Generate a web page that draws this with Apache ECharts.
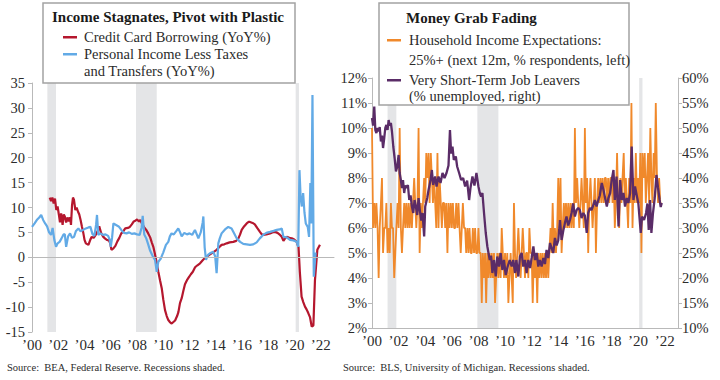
<!DOCTYPE html>
<html>
<head>
<meta charset="utf-8">
<script src="https://cdn.jsdelivr.net/npm/echarts@6/dist/echarts.min.js"></script>
<style>
html,body{margin:0;padding:0;background:#fff;}
#c{width:720px;height:380px;}
</style>
</head>
<body>
<div id="c"></div>
<script>
// ---- data (decimal years) ----
const recessions = [[2001.17, 2001.83], [2007.92, 2009.5], [2020.08, 2020.33]];
const xTickYears = [2000,2002,2004,2006,2008,2010,2012,2014,2016,2018,2020,2022];
const xTickLabels = ["’00","’02","’04","’06","’08","’10","’12","’14","’16","’18","’20","’22"];

const creditCard = [[2001.35,12.0],[2001.45,11.3],[2001.55,12.0],[2001.65,10.8],[2001.75,11.8],[2001.85,9.5],[2001.95,10.2],[2002.05,8.5],[2002.13,7.0],[2002.22,8.8],[2002.33,6.5],[2002.42,8.6],[2002.5,8.2],[2002.6,7.0],[2002.7,8.0],[2002.8,7.2],[2002.9,8.0],[2002.97,6.5],[2003.05,10.5],[2003.12,12.0],[2003.2,11.5],[2003.3,9.5],[2003.4,10.0],[2003.5,9.2],[2003.6,8.6],[2003.7,7.5],[2003.8,6.2],[2003.9,5.0],[2004.0,3.5],[2004.1,2.8],[2004.3,2.5],[2004.45,3.6],[2004.55,4.1],[2004.7,3.9],[2004.85,4.5],[2005.0,5.3],[2005.12,6.2],[2005.25,5.0],[2005.4,4.2],[2005.55,3.8],[2005.7,3.5],[2005.85,3.4],[2005.96,2.8],[2006.05,1.5],[2006.2,1.8],[2006.35,2.3],[2006.5,3.2],[2006.65,3.9],[2006.8,4.8],[2006.95,5.2],[2007.1,5.8],[2007.3,5.9],[2007.45,6.1],[2007.6,6.6],[2007.75,7.2],[2007.9,7.4],[2008.0,7.6],[2008.15,7.2],[2008.25,7.5],[2008.4,6.6],[2008.55,6.0],[2008.7,5.5],[2008.85,4.8],[2009.0,4.0],[2009.12,3.0],[2009.24,2.1],[2009.35,0.8],[2009.45,-0.5],[2009.62,-2.9],[2009.75,-4.6],[2009.88,-6.2],[2010.0,-8.5],[2010.13,-10.6],[2010.26,-11.8],[2010.38,-12.6],[2010.5,-13.0],[2010.64,-13.3],[2010.77,-13.0],[2010.9,-12.7],[2011.05,-11.8],[2011.15,-11.0],[2011.27,-9.2],[2011.4,-8.2],[2011.52,-6.8],[2011.65,-5.4],[2011.8,-4.6],[2011.95,-4.0],[2012.1,-3.4],[2012.25,-2.9],[2012.42,-2.0],[2012.6,-1.6],[2012.8,-1.2],[2013.0,-0.6],[2013.15,-0.2],[2013.3,0.1],[2013.5,0.5],[2013.68,0.8],[2013.85,1.1],[2014.06,1.5],[2014.25,2.0],[2014.44,2.5],[2014.65,2.6],[2014.83,2.8],[2015.05,3.0],[2015.33,3.1],[2015.55,3.3],[2015.72,3.8],[2015.85,4.6],[2015.97,5.5],[2016.15,6.2],[2016.35,6.8],[2016.5,7.1],[2016.6,7.1],[2016.8,6.9],[2016.97,6.6],[2017.15,5.9],[2017.36,5.1],[2017.5,4.6],[2017.6,4.5],[2017.85,4.6],[2018.13,4.8],[2018.3,5.0],[2018.5,5.1],[2018.7,4.9],[2018.89,4.5],[2019.0,4.2],[2019.15,3.3],[2019.3,3.9],[2019.4,4.1],[2019.6,3.9],[2019.78,3.8],[2019.95,3.6],[2020.16,3.1],[2020.3,2.0],[2020.4,-3.0],[2020.53,-7.9],[2020.66,-9.0],[2020.79,-9.9],[2020.92,-10.5],[2021.04,-11.2],[2021.17,-12.0],[2021.3,-13.9],[2021.43,-13.7],[2021.55,-4.6],[2021.73,1.5],[2021.93,2.5]];

const personalIncome = [[2000.0,6.1],[2000.2,6.8],[2000.4,7.6],[2000.55,8.0],[2000.7,8.5],[2000.85,7.5],[2001.0,6.8],[2001.15,6.2],[2001.3,5.0],[2001.45,4.5],[2001.57,5.9],[2001.7,3.5],[2001.83,2.1],[2001.95,2.8],[2002.1,3.1],[2002.25,3.8],[2002.4,4.6],[2002.5,4.6],[2002.6,2.1],[2002.75,4.2],[2002.9,4.8],[2003.05,3.9],[2003.2,4.1],[2003.35,5.3],[2003.53,5.8],[2003.7,5.2],[2003.9,5.5],[2004.1,5.8],[2004.3,6.0],[2004.45,6.1],[2004.6,4.7],[2004.75,4.3],[2004.88,6.5],[2004.95,8.5],[2005.05,4.5],[2005.2,4.8],[2005.4,4.5],[2005.6,4.6],[2005.8,4.3],[2005.92,3.5],[2006.0,2.1],[2006.1,4.0],[2006.2,6.8],[2006.4,6.5],[2006.6,6.2],[2006.8,5.5],[2007.0,4.9],[2007.2,4.8],[2007.4,5.0],[2007.6,4.7],[2007.8,4.8],[2008.0,4.6],[2008.2,4.5],[2008.35,6.0],[2008.43,8.3],[2008.55,4.6],[2008.7,3.8],[2008.85,2.6],[2009.0,1.3],[2009.2,0.2],[2009.37,-0.5],[2009.5,-2.9],[2009.62,-0.9],[2009.8,-0.3],[2010.0,1.0],[2010.2,2.5],[2010.38,3.1],[2010.5,4.2],[2010.63,4.8],[2010.8,4.6],[2011.0,5.3],[2011.14,5.8],[2011.25,5.2],[2011.4,4.2],[2011.6,4.9],[2011.8,4.6],[2012.0,4.8],[2012.2,4.5],[2012.41,5.5],[2012.55,4.6],[2012.67,3.8],[2012.85,5.0],[2013.0,7.0],[2013.05,8.2],[2013.15,2.0],[2013.25,-0.5],[2013.4,0.5],[2013.55,0.8],[2013.8,1.1],[2013.95,0.2],[2014.06,-3.2],[2014.19,2.8],[2014.3,3.8],[2014.44,4.8],[2014.7,5.6],[2014.95,6.1],[2015.2,5.8],[2015.4,4.8],[2015.59,3.8],[2015.85,3.1],[2016.09,2.7],[2016.35,2.6],[2016.6,2.5],[2016.85,2.6],[2017.11,3.0],[2017.35,3.8],[2017.6,4.5],[2017.85,4.9],[2018.13,5.1],[2018.4,5.3],[2018.64,5.5],[2018.85,5.6],[2019.02,5.8],[2019.15,4.1],[2019.4,4.0],[2019.65,3.5],[2019.9,3.4],[2020.16,3.1],[2020.28,2.1],[2020.37,17.5],[2020.46,12.0],[2020.55,10.2],[2020.65,12.9],[2020.75,9.0],[2020.85,6.8],[2021.0,6.1],[2021.1,4.1],[2021.2,14.9],[2021.27,6.8],[2021.36,32.6],[2021.46,-3.9],[2021.6,1.0]];

const incomeExpectations = [[2000.0,10],[2000.08,6],[2000.17,7],[2000.25,6],[2000.33,7],[2000.42,6],[2000.5,4],[2000.58,6],[2000.67,7],[2000.75,8],[2000.83,5],[2000.92,6],
[2001.0,6],[2001.08,7],[2001.17,5],[2001.25,6],[2001.33,5],[2001.42,7],[2001.5,6],[2001.58,6],[2001.67,4],[2001.75,5],[2001.83,6],[2001.92,7],
[2002.0,6],[2002.08,10],[2002.17,6],[2002.25,5],[2002.33,6],[2002.42,7],[2002.5,6],[2002.58,7],[2002.67,6],[2002.75,7],[2002.83,6],[2002.92,7],
[2003.0,6],[2003.08,7],[2003.17,8],[2003.25,7],[2003.33,6],[2003.42,7],[2003.5,10],[2003.58,5],[2003.67,7],[2003.75,6],[2003.83,7],[2003.92,8],
[2004.0,7],[2004.08,9],[2004.17,8],[2004.25,9],[2004.33,7],[2004.42,9],[2004.5,8],[2004.58,7],[2004.67,8],[2004.75,7],[2004.83,6],[2004.92,9],
[2005.0,6],[2005.08,8],[2005.17,7],[2005.25,6],[2005.33,7],[2005.42,7],[2005.5,6],[2005.58,7],[2005.67,5],[2005.75,7],[2005.83,6],[2005.92,7],
[2006.0,6],[2006.08,7],[2006.17,6],[2006.25,6],[2006.33,7],[2006.42,6],[2006.5,7],[2006.58,6],[2006.67,5],[2006.75,6],[2006.83,7],[2006.92,6],
[2007.0,6],[2007.08,5],[2007.17,6],[2007.25,5],[2007.33,6],[2007.42,5],[2007.5,5],[2007.58,6],[2007.67,5],[2007.75,6],[2007.83,5],[2007.92,5],
[2008.0,6],[2008.08,5],[2008.17,5],[2008.25,3],[2008.33,5],[2008.42,4],[2008.5,5],[2008.58,3],[2008.67,5],[2008.75,4],[2008.83,5],[2008.92,4],
[2009.0,5],[2009.08,4],[2009.17,5],[2009.25,3],[2009.33,4],[2009.42,5],[2009.5,4],[2009.58,5],[2009.67,4],[2009.75,6],[2009.83,5],[2009.92,4],
[2010.0,5],[2010.08,4],[2010.17,5],[2010.25,3],[2010.33,4],[2010.42,5],[2010.5,4],[2010.58,3],[2010.67,7],[2010.75,5],[2010.83,4],[2010.92,5],
[2011.0,6],[2011.08,5],[2011.17,4],[2011.25,5],[2011.33,6],[2011.42,5],[2011.5,4],[2011.58,5],[2011.67,5],[2011.75,4],[2011.83,6],[2011.92,5],
[2012.0,5],[2012.08,3],[2012.17,5],[2012.25,4],[2012.33,5],[2012.42,3],[2012.5,5],[2012.58,4],[2012.67,5],[2012.75,4],[2012.83,5],[2012.92,4],
[2013.0,5],[2013.08,4],[2013.17,5],[2013.25,4],[2013.33,5],[2013.42,6],[2013.5,5],[2013.58,7],[2013.67,5],[2013.75,6],[2013.83,5],[2013.92,6],
[2014.0,8],[2014.08,6],[2014.17,8],[2014.25,5],[2014.33,6],[2014.42,7],[2014.5,6],[2014.58,7],[2014.67,6],[2014.75,7],[2014.83,6],[2014.92,7],
[2015.0,6],[2015.08,7],[2015.17,6],[2015.25,10],[2015.33,7],[2015.42,8],[2015.5,7],[2015.58,6],[2015.67,7],[2015.75,8],[2015.83,7],[2015.92,6],
[2016.0,10],[2016.08,7],[2016.17,8],[2016.25,5],[2016.33,7],[2016.42,8],[2016.5,7],[2016.58,6],[2016.67,7],[2016.75,8],[2016.83,5],[2016.92,7],
[2017.0,8],[2017.08,7],[2017.17,8],[2017.25,7],[2017.33,8],[2017.42,7],[2017.5,8],[2017.58,8],[2017.67,7],[2017.75,8],[2017.83,7],[2017.92,8],
[2018.0,8],[2018.08,7],[2018.17,8],[2018.25,6],[2018.33,7],[2018.42,9],[2018.5,7],[2018.58,6],[2018.67,8],[2018.75,7],[2018.83,8],[2018.92,9],
[2019.0,7],[2019.08,8],[2019.17,7],[2019.25,6],[2019.33,8],[2019.42,7],[2019.5,11],[2019.58,6],[2019.67,8],[2019.75,7],[2019.83,9],[2019.92,7],
[2020.0,8],[2020.08,7],[2020.17,9],[2020.25,5],[2020.33,9],[2020.42,8],[2020.5,9],[2020.58,7],[2020.67,8],[2020.75,9],[2020.83,7],[2020.92,10],
[2021.0,8],[2021.08,7],[2021.17,9],[2021.25,8],[2021.33,11],[2021.42,8],[2021.5,7],[2021.58,8],[2021.67,7],[2021.75,7]];

const jobLeavers = [[2000.0,52],[2000.08,50.5],[2000.17,54.3],[2000.25,49.6],[2000.33,49.0],[2000.42,50.0],[2000.5,49.3],[2000.58,50.2],[2000.67,47.3],[2000.75,48.5],[2000.83,46.0],[2000.92,48.0],[2001.0,50.0],[2001.08,50.6],[2001.17,49.6],[2001.25,51.6],[2001.33,50.5],[2001.42,51.0],[2001.5,49.3],[2001.6,46.3],[2001.7,44.0],[2001.8,41.3],[2001.9,42.3],[2002.0,44.6],[2002.08,41.0],[2002.17,39.6],[2002.25,38.0],[2002.33,39.6],[2002.42,37.0],[2002.5,38.5],[2002.6,38.0],[2002.7,38.6],[2002.8,35.6],[2002.9,36.5],[2003.0,34.3],[2003.1,33.0],[2003.2,35.6],[2003.3,34.3],[2003.4,32.6],[2003.5,36.0],[2003.6,33.5],[2003.7,31.5],[2003.8,33.0],[2003.92,28.3],[2004.0,34.3],[2004.15,36.0],[2004.25,37.6],[2004.4,39.6],[2004.5,41.6],[2004.6,38.6],[2004.75,40.3],[2004.85,38.3],[2005.0,40.3],[2005.15,39.0],[2005.3,41.0],[2005.45,40.0],[2005.6,41.0],[2005.75,42.5],[2005.86,49.6],[2005.95,44.9],[2006.05,46.3],[2006.15,43.6],[2006.3,44.3],[2006.4,42.3],[2006.55,41.0],[2006.7,39.6],[2006.85,40.0],[2007.0,38.3],[2007.15,39.5],[2007.3,35.6],[2007.4,38.0],[2007.55,40.3],[2007.7,38.5],[2007.85,41.0],[2008.0,38.3],[2008.1,37.0],[2008.2,36.3],[2008.3,37.0],[2008.42,33.0],[2008.55,29.0],[2008.67,26.3],[2008.85,23.6],[2008.95,24.5],[2009.05,21.0],[2009.17,23.6],[2009.3,20.3],[2009.42,24.3],[2009.55,22.3],[2009.67,25.0],[2009.8,21.6],[2009.92,23.6],[2010.05,20.6],[2010.2,22.3],[2010.35,23.6],[2010.5,22.3],[2010.62,23.6],[2010.75,21.0],[2010.85,23.6],[2011.0,20.3],[2011.12,24.3],[2011.25,25.0],[2011.37,22.3],[2011.5,23.6],[2011.62,21.0],[2011.75,23.6],[2011.88,22.0],[2012.0,24.0],[2012.13,26.3],[2012.25,23.6],[2012.38,25.0],[2012.5,22.3],[2012.62,23.6],[2012.75,22.3],[2012.88,24.0],[2013.0,22.8],[2013.12,25.6],[2013.25,24.0],[2013.38,27.0],[2013.5,26.0],[2013.62,25.0],[2013.75,28.0],[2013.88,26.5],[2014.0,27.5],[2014.13,31.6],[2014.25,27.6],[2014.38,29.5],[2014.5,31.0],[2014.62,32.3],[2014.75,30.5],[2014.88,31.6],[2015.0,33.0],[2015.12,34.9],[2015.25,32.3],[2015.38,33.6],[2015.5,34.0],[2015.62,33.6],[2015.75,32.0],[2015.88,33.0],[2016.0,32.5],[2016.14,29.0],[2016.25,33.0],[2016.38,34.0],[2016.5,33.6],[2016.62,34.5],[2016.75,35.6],[2016.88,34.3],[2017.0,35.5],[2017.12,36.5],[2017.27,39.0],[2017.4,37.6],[2017.52,36.0],[2017.65,34.3],[2017.77,36.0],[2017.9,37.0],[2018.02,39.6],[2018.15,41.6],[2018.25,35.6],[2018.38,40.3],[2018.53,30.3],[2018.65,39.6],[2018.78,35.6],[2018.9,37.0],[2019.02,34.3],[2019.15,36.0],[2019.27,35.0],[2019.4,37.0],[2019.52,46.3],[2019.65,35.6],[2019.77,38.3],[2019.9,36.5],[2020.02,34.9],[2020.2,29.0],[2020.3,32.3],[2020.45,31.6],[2020.6,33.0],[2020.7,34.9],[2020.8,29.6],[2020.9,35.6],[2021.0,29.0],[2021.12,33.0],[2021.25,36.0],[2021.38,40.6],[2021.5,38.0],[2021.62,35.6],[2021.7,34.2],[2021.78,35.0]];

// ---- styling ----
const FONT = "'Liberation Serif', 'DejaVu Serif', serif";
const TXT = '#2b2b2b';
const AX = '#b9b9b9';
const SHADE = '#e4e5e7';
const RED = '#b5172e', BLUE = '#62aae6', ORANGE = '#f0892b', PURPLE = '#5a2c67';

function yearLabel(v) {
  const i = xTickYears.indexOf(Math.round(v));
  return (i >= 0 && Math.abs(v - xTickYears[i]) < 1e-6) ? xTickLabels[i] : '';
}

const recArea = recessions.map(r => [{xAxis: r[0]}, {xAxis: r[1]}]);

function xAxisOf(g) {
  return {
    type: 'value', gridIndex: g, min: 2000, max: 2023, interval: 2,
    axisLine: {show: true, lineStyle: {color: AX, width: 1}},
    axisTick: {show: false}, splitLine: {show: false},
    axisLabel: {formatter: yearLabel, color: TXT, fontFamily: FONT, fontSize: 15, margin: 5, showMaxLabel: false}
  };
}

const LEG = "14.5px " + FONT;
const chart = echarts.init(document.getElementById('c'), null, {renderer: 'svg'});
chart.setOption({
  animation: false,
  backgroundColor: '#fff',
  grid: [
    {left: 32, top: 83, width: 302, height: 249, containLabel: false},
    {left: 372, top: 78, width: 306, height: 250, containLabel: false}
  ],
  xAxis: [xAxisOf(0), xAxisOf(1)],
  yAxis: [
    {type: 'value', gridIndex: 0, min: -15, max: 35, interval: 5,
     axisLine: {show: true, lineStyle: {color: AX}}, axisTick: {show: true, length: 4, lineStyle: {color: AX}},
     splitLine: {show: false},
     axisLabel: {color: TXT, fontFamily: FONT, fontSize: 14.5, margin: 7}},
    {type: 'value', gridIndex: 1, min: 2, max: 12, interval: 1, position: 'left',
     axisLine: {show: true, lineStyle: {color: AX}}, axisTick: {show: true, length: 4, lineStyle: {color: AX}},
     splitLine: {show: false},
     axisLabel: {formatter: '{value}%', color: TXT, fontFamily: FONT, fontSize: 14.5, margin: 5}},
    {type: 'value', gridIndex: 1, min: 10, max: 60, interval: 5, position: 'right',
     axisLine: {show: true, lineStyle: {color: AX}}, axisTick: {show: true, length: 4, lineStyle: {color: AX}},
     splitLine: {show: false},
     axisLabel: {formatter: '{value}%', color: TXT, fontFamily: FONT, fontSize: 14.5, margin: 4}}
  ],
  series: [
    {type: 'line', name: 'rec-left', xAxisIndex: 0, yAxisIndex: 0, data: [], silent: true, z: 1,
     markArea: {silent: true, itemStyle: {color: SHADE}, data: recArea}},
    {type: 'line', name: 'Credit Card Borrowing (YoY%)', xAxisIndex: 0, yAxisIndex: 0, data: creditCard,
     showSymbol: false, lineStyle: {color: RED, width: 2.2}, itemStyle: {color: RED}, z: 3},
    {type: 'line', name: 'Personal Income Less Taxes and Transfers (YoY%)', xAxisIndex: 0, yAxisIndex: 0, data: personalIncome,
     showSymbol: false, lineStyle: {color: BLUE, width: 2.2}, itemStyle: {color: BLUE}, z: 4,
     markLine: {silent: true, symbol: 'none', label: {show: false}, lineStyle: {color: AX, width: 1, type: 'solid'}, data: [{yAxis: 0}]}},
    {type: 'line', name: 'rec-right', xAxisIndex: 1, yAxisIndex: 1, data: [], silent: true, z: 1,
     markArea: {silent: true, itemStyle: {color: SHADE}, data: recArea}},
    {type: 'line', name: 'Household Income Expectations', xAxisIndex: 1, yAxisIndex: 1, data: incomeExpectations,
     showSymbol: false, lineStyle: {color: ORANGE, width: 1.8}, itemStyle: {color: ORANGE}, z: 3},
    {type: 'line', name: 'Very Short-Term Job Leavers', xAxisIndex: 1, yAxisIndex: 2, data: jobLeavers,
     showSymbol: false, lineStyle: {color: PURPLE, width: 2.3}, itemStyle: {color: PURPLE}, z: 4}
  ],
  graphic: [
    // left legend box
    {type: 'rect', z: 100, shape: {x: 43, y: 3, width: 252, height: 80}, style: {fill: '#fff', stroke: '#a3a3a3', lineWidth: 1.5}},
    {type: 'text', z: 101, style: {x: 168, y: 17, text: 'Income Stagnates, Pivot with Plastic', font: "bold 15px " + FONT, fill: '#1a1a1a', align: 'center', verticalAlign: 'middle', textAlign: 'center', textVerticalAlign: 'middle'}},
    {type: 'rect', z: 101, shape: {x: 63, y: 36, width: 14, height: 2.5}, style: {fill: RED}},
    {type: 'text', z: 101, style: {x: 84, y: 37, text: 'Credit Card Borrowing (YoY%)', font: LEG, fill: TXT, verticalAlign: 'middle', textVerticalAlign: 'middle'}},
    {type: 'rect', z: 101, shape: {x: 63, y: 53, width: 14, height: 2.5}, style: {fill: BLUE}},
    {type: 'text', z: 101, style: {x: 84, y: 54, text: 'Personal Income Less Taxes', font: LEG, fill: TXT, verticalAlign: 'middle', textVerticalAlign: 'middle'}},
    {type: 'text', z: 101, style: {x: 84, y: 71, text: 'and Transfers (YoY%)', font: LEG, fill: TXT, verticalAlign: 'middle', textVerticalAlign: 'middle'}},
    // right legend box
    {type: 'rect', z: 100, shape: {x: 379, y: 3, width: 250, height: 102}, style: {fill: '#fff', stroke: '#a3a3a3', lineWidth: 1.5}},
    {type: 'text', z: 101, style: {x: 406, y: 18, text: 'Money Grab Fading', font: "bold 15px " + FONT, fill: '#1a1a1a', verticalAlign: 'middle', textVerticalAlign: 'middle'}},
    {type: 'rect', z: 101, shape: {x: 387, y: 39, width: 14, height: 2.5}, style: {fill: ORANGE}},
    {type: 'text', z: 101, style: {x: 409, y: 40, text: 'Household Income Expectations:', font: LEG, fill: TXT, verticalAlign: 'middle', textVerticalAlign: 'middle'}},
    {type: 'text', z: 101, style: {x: 409, y: 60, text: '25%+ (next 12m, % respondents, left)', font: LEG, fill: TXT, verticalAlign: 'middle', textVerticalAlign: 'middle'}},
    {type: 'rect', z: 101, shape: {x: 387, y: 79, width: 14, height: 2.5}, style: {fill: PURPLE}},
    {type: 'text', z: 101, style: {x: 409, y: 80, text: 'Very Short-Term Job Leavers', font: LEG, fill: TXT, verticalAlign: 'middle', textVerticalAlign: 'middle'}},
    {type: 'text', z: 101, style: {x: 409, y: 96, text: '(% unemployed, right)', font: LEG, fill: TXT, verticalAlign: 'middle', textVerticalAlign: 'middle'}},
    // sources
    {type: 'text', z: 101, style: {x: 7, y: 367, text: 'Source:  BEA, Federal Reserve. Recessions shaded.', font: "10.5px " + FONT, fill: TXT, verticalAlign: 'middle', textVerticalAlign: 'middle'}},
    {type: 'text', z: 101, style: {x: 343, y: 367, text: 'Source:  BLS, University of Michigan. Recessions shaded.', font: "10.5px " + FONT, fill: TXT, verticalAlign: 'middle', textVerticalAlign: 'middle'}}
  ]
});
</script>
</body>
</html>
